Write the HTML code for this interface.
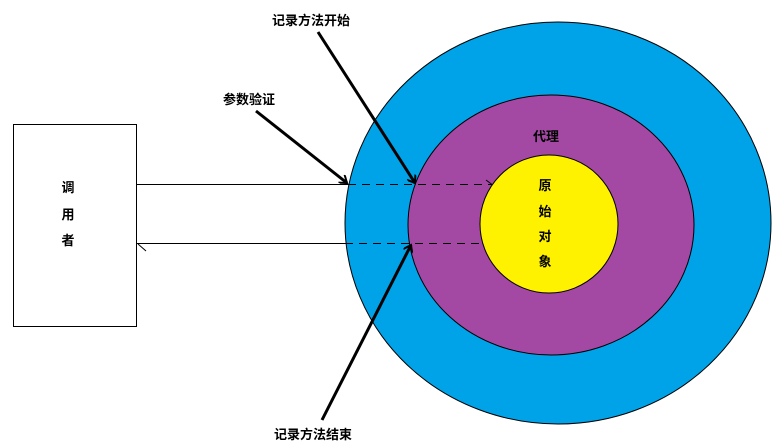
<!DOCTYPE html>
<html><head><meta charset="utf-8"><style>
html,body{margin:0;padding:0;background:#fff;width:782px;height:444px;overflow:hidden}
svg text{font-family:"Liberation Sans","Noto Sans CJK SC",sans-serif;font-size:13px;font-weight:bold;fill:#000}
</style></head><body>
<svg width="782" height="444" viewBox="0 0 782 444" xmlns="http://www.w3.org/2000/svg">
<defs>
<marker id="ah" markerWidth="10" markerHeight="10" refX="8" refY="5" orient="auto" markerUnits="userSpaceOnUse">
<path d="M1,0 L8,5 L1,10" fill="none" stroke="#000" stroke-width="2"/>
</marker>
</defs>
<rect x="13.5" y="124.5" width="123" height="202" fill="#fff" stroke="#000"/>
<text x="68" y="192" text-anchor="middle">调</text>
<text x="68" y="219" text-anchor="middle">用</text>
<text x="68" y="245" text-anchor="middle">者</text>
<ellipse cx="558" cy="223" rx="213" ry="201" fill="#00a2e8" stroke="#000" stroke-width="1"/>
<ellipse cx="551" cy="225" rx="143" ry="130" fill="#a349a4" stroke="#000" stroke-width="1"/>
<circle cx="549" cy="224" r="69" fill="#fff200" stroke="#000" stroke-width="1"/>
<text x="546" y="141" text-anchor="middle">代理</text>
<text x="545" y="190" text-anchor="middle">原</text>
<text x="545" y="216" text-anchor="middle">始</text>
<text x="545" y="241" text-anchor="middle">对</text>
<text x="545" y="266" text-anchor="middle">象</text>
<line x1="136" y1="184.5" x2="348" y2="184.5" stroke="#000"/>
<line x1="348" y1="184.5" x2="492" y2="184.5" stroke="#000" stroke-dasharray="8,6"/>
<path d="M486,180 L492,184.5" stroke="#000" fill="none"/>
<line x1="137" y1="243.5" x2="345" y2="243.5" stroke="#000"/>
<line x1="345" y1="243.5" x2="482" y2="243.5" stroke="#000" stroke-dasharray="8,6"/>
<path d="M138,244 L146,251" stroke="#000" fill="none"/>
<line x1="256" y1="111" x2="347" y2="183" stroke="#000" stroke-width="3" marker-end="url(#ah)"/>
<line x1="318" y1="32" x2="415" y2="183" stroke="#000" stroke-width="3" marker-end="url(#ah)"/>
<line x1="322" y1="420" x2="411" y2="245" stroke="#000" stroke-width="3" marker-end="url(#ah)"/>
<text x="311" y="25" text-anchor="middle">记录方法开始</text>
<text x="249" y="104" text-anchor="middle">参数验证</text>
<text x="313" y="439" text-anchor="middle">记录方法结束</text>
</svg>
</body></html>
